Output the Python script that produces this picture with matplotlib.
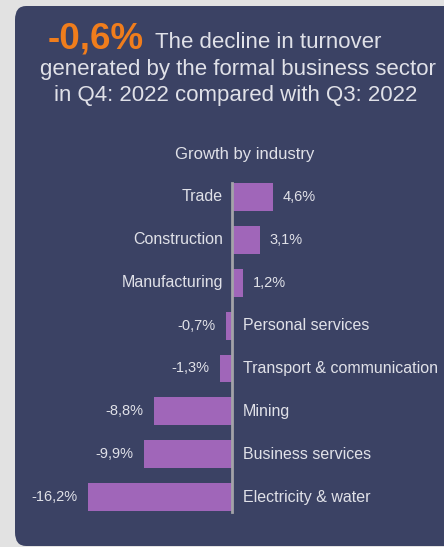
import matplotlib.pyplot as plt
from matplotlib.patches import FancyBboxPatch

plt.rcParams['font.family'] = ['Liberation Sans', 'DejaVu Sans']

industries = ['Trade', 'Construction', 'Manufacturing', 'Personal services',
              'Transport & communication', 'Mining', 'Business services',
              'Electricity & water']
growth = [4.6, 3.1, 1.2, -0.7, -1.3, -8.8, -9.9, -16.2]
value_labels = ['4,6%', '3,1%', '1,2%', '-0,7%', '-1,3%', '-8,8%', '-9,9%', '-16,2%']

W, H = 444, 547
bg = '#e2e2e2'
panel = '#3b4264'
bar_col = '#a066b9'
txt = '#e0e1e8'
orange = '#f07d1c'

fig = plt.figure(figsize=(W / 100, H / 100), dpi=100)
fig.patch.set_facecolor(bg)

# rounded dark panel
fig.patches.append(FancyBboxPatch((15 / W, 1 - 546 / H), 460 / W, 540 / H,
                                  boxstyle='round,pad=0,rounding_size=0.025',
                                  transform=fig.transFigure, facecolor=panel,
                                  edgecolor='none', zorder=0))

# axes covering whole figure, 8.9 px per percent, 42.86 px per row
px_unit = 8.9
row = 42.86
x0, y0 = 232, 197
ax = fig.add_axes([0, 0, 1, 1])
ax.set_zorder(2)
ax.set_facecolor('none')
ax.set_xlim(-x0 / px_unit, (W - x0) / px_unit)
ax.set_ylim((H - y0) / row, -y0 / row)
ax.axis('off')

ypos = list(range(len(industries)))
ax.barh(ypos, growth, height=0.65, color=bar_col, zorder=2)
ax.plot([0, 0], [-0.33, 7.35], color='#a3a3a8', lw=2, zorder=3)

for i, (name, v, lab) in enumerate(zip(industries, growth, value_labels)):
    if v >= 0:
        ax.text(-1.0, i, name, ha='right', va='center', fontsize=11.5, color=txt)
        ax.text(v + 1.1, i, lab, ha='left', va='center', fontsize=10.5, color=txt)
    else:
        ax.text(1.2, i, name, ha='left', va='center', fontsize=11.5, color=txt)
        ax.text(v - 1.2, i, lab, ha='right', va='center', fontsize=10.5, color=txt)

# headline
fig.text(48 / W, 1 - 39 / H, '-0,6%', fontsize=26.5, fontweight='bold', color=orange,
         ha='left', va='center', zorder=3)
fig.text(155 / W, 1 - 42 / H, 'The decline in turnover', fontsize=16, color=txt,
         ha='left', va='center', zorder=3)
fig.text(238 / W, 1 - 69 / H, 'generated by the formal business sector', fontsize=16,
         color=txt, ha='center', va='center', zorder=3)
fig.text(236 / W, 1 - 96 / H, 'in Q4: 2022 compared with Q3: 2022', fontsize=16,
         color=txt, ha='center', va='center', zorder=3)
fig.text(245 / W, 1 - 154 / H, 'Growth by industry', fontsize=12, color=txt,
         ha='center', va='center', zorder=3)

fig.savefig('out.png', dpi=100, facecolor=bg)
